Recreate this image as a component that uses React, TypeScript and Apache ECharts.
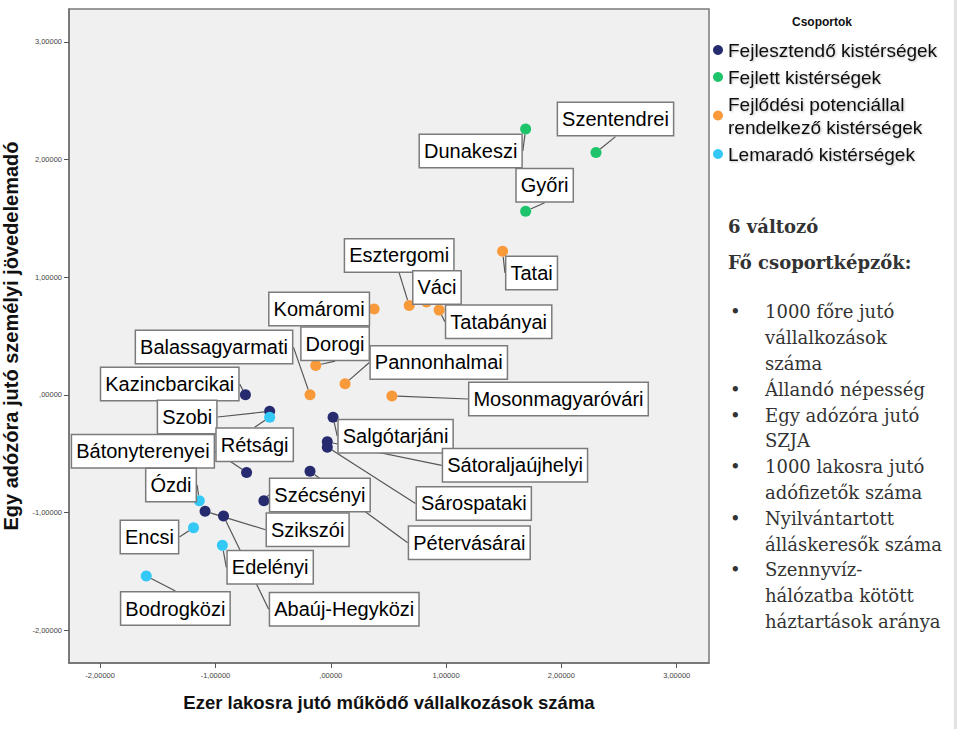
import React, { useEffect, useRef } from 'react';
import * as echarts from 'echarts';

// ---- Data ----
const groupNames = [
  'Fejlesztendő kistérségek',
  'Fejlett kistérségek',
  'Fejlődési potenciállal\nrendelkező kistérségek',
  'Lemaradó kistérségek',
];
const groupColors = ['#262a6e', '#1ec46b', '#f8993a', '#33c8f5'];

const fejlesztendoNames = ['Kazincbarcikai', 'Szobi', 'Salgótarjáni', 'Sátoraljaújhelyi', 'Sárospataki', 'Bátonyterenyei', 'Pétervásárai', 'Szécsényi', 'Szikszói', 'Abaúj-Hegyközi'];
const fejlesztendoX = [-0.74, -0.53, 0.02, -0.03, -0.03, -0.73, -0.18, -0.58, -1.09, -0.93];
const fejlesztendoY = [0.0, -0.14, -0.19, -0.4, -0.445, -0.66, -0.65, -0.9, -0.99, -1.03];

const fejlettNames = ['Dunakeszi', 'Szentendrei', 'Győri'];
const fejlettX = [1.69, 2.3, 1.69];
const fejlettY = [2.26, 2.06, 1.56];

const potencialNames = ['Tatai', 'Esztergomi', 'Váci', 'Tatabányai', 'Komáromi', 'Dorogi', 'Balassagyarmati', 'Pannonhalmai', 'Mosonmagyaróvári'];
const potencialX = [1.49, 0.68, 0.83, 0.94, 0.376, -0.13, -0.18, 0.124, 0.53];
const potencialY = [1.22, 0.76, 0.79, 0.72, 0.73, 0.25, 0.0, 0.094, -0.01];

const lemaradoNames = ['Rétsági', 'Ózdi', 'Encsi', 'Edelényi', 'Bodrogközi'];
const lemaradoX = [-0.53, -1.14, -1.19, -0.94, -1.6];
const lemaradoY = [-0.19, -0.9, -1.13, -1.28, -1.54];

const xTicks = [-2, -1, 0, 1, 2, 3];
const yTicks = [-2, -1, 0, 1, 2, 3];

const xAxisTitle = 'Ezer lakosra jutó működő vállalkozások száma';
const yAxisTitle = 'Egy adózóra jutó személyi jövedelemadó';
const legendTitle = 'Csoportok';

const panelHeading1 = '6 változó';
const panelHeading2 = 'Fő csoportképzők:';
const panelItems = [
  ['1000 főre jutó', 'vállalkozások', 'száma'],
  ['Állandó népesség'],
  ['Egy adózóra jutó', 'SZJA'],
  ['1000 lakosra jutó', 'adófizetők száma'],
  ['Nyilvántartott', 'álláskeresők száma'],
  ['Szennyvíz-', 'hálózatba kötött', 'háztartások aránya'],
];

// ---- Layout (label box offsets from point centre, px) ----
const labelOffsets: Record<string, [number, number]> = {
  Kazincbarcikai: [-75.7, -10.7],
  Szobi: [-82.5, 5.7],
  Salgótarjáni: [62.5, 19],
  Sátoraljaújhelyi: [187.7, 23.5],
  Sárospataki: [146.5, 56.3],
  Bátonyterenyei: [-103.7, -21.3],
  Pétervásárai: [159.3, 71.5],
  Szécsényi: [56, -5.7],
  Szikszói: [102.6, 18.5],
  'Abaúj-Hegyközi': [120.7, 93.3],
  Dunakeszi: [-55, 22],
  Szentendrei: [19.5, -33.4],
  Győri: [19, -26],
  Tatai: [29, 21.7],
  Esztergomi: [-10, -50],
  Váci: [10.5, -14.5],
  Tatabányai: [59.5, 11.7],
  Komáromi: [-55, 0],
  Dorogi: [19.3, -21.7],
  Balassagyarmati: [-96, -47.7],
  Pannonhalmai: [93.7, -21.3],
  Mosonmagyaróvári: [166.6, 3],
  Rétsági: [-15, 27.7],
  Ózdi: [-28.3, -15.8],
  Encsi: [-44.1, 9.3],
  Edelényi: [47.8, 22],
  Bodrogközi: [29.1, 32.6],
};

const fmt = (v: number) => {
  const a = Math.abs(v);
  let s = a.toFixed(5).replace('.', ',');
  if (a < 1) s = s.replace(/^0/, '');
  return (v < 0 ? '-' : '') + s;
};

const groups = [
  { names: fejlesztendoNames, xs: fejlesztendoX, ys: fejlesztendoY },
  { names: fejlettNames, xs: fejlettX, ys: fejlettY },
  { names: potencialNames, xs: potencialX, ys: potencialY },
  { names: lemaradoNames, xs: lemaradoX, ys: lemaradoY },
];

export default function App() {
  const ref = useRef<HTMLDivElement>(null);
  useEffect(() => {
    if (!ref.current) return;
    const chart = echarts.init(ref.current, null, { renderer: 'svg' });

    const series = groups.map((g, gi) => ({
      type: 'scatter',
      name: groupNames[gi],
      symbol: 'circle',
      symbolSize: 11,
      itemStyle: { color: groupColors[gi], opacity: 1 },
      data: g.names.map((n, i) => ({ name: n, value: [g.xs[i], g.ys[i]] })),
      label: {
        show: true,
        position: 'inside',
        formatter: '{b}',
        backgroundColor: '#ffffff',
        borderColor: '#7b7b7b',
        borderWidth: 1.5,
        padding: [4, 4, 4, 4],
        fontSize: 20,
        lineHeight: 24,
        color: '#000',
        fontFamily: 'Liberation Sans, Arial, sans-serif',
      },
      labelLine: { show: true, lineStyle: { color: '#555', width: 1.2 } },
      labelLayout: (p: any) => {
        const o = labelOffsets[g.names[p.dataIndex]] || [0, 0];
        return { dx: o[0], dy: o[1] };
      },
      emphasis: { disabled: true },
    }));

    const bulletLines: string[] = [];
    const textLines: string[] = [];
    panelItems.forEach((item) => {
      item.forEach((line, li) => {
        bulletLines.push(li === 0 ? '•' : ' ');
        textLines.push(line);
      });
    });

    chart.setOption({
      animation: false,
      backgroundColor: '#ffffff',
      grid: {
        left: 69,
        top: 9,
        width: 640,
        height: 654,
        show: true,
        containLabel: false,
        outerBoundsMode: 'none',
        backgroundColor: '#f0f0f0',
        borderColor: '#7a7a7a',
        borderWidth: 1.5,
      },
      xAxis: {
        type: 'value',
        min: -2.27,
        max: 3.28,
        splitLine: { show: false },
        axisLine: { show: true, onZero: false, lineStyle: { color: '#6f6f6f', width: 1.5 } },
        axisTick: { show: true, customValues: xTicks, length: 5, lineStyle: { color: '#555' } },
        axisLabel: {
          customValues: xTicks,
          formatter: fmt,
          fontSize: 7.5,
          color: '#444',
          margin: 8,
          fontFamily: 'Liberation Sans, Arial, sans-serif',
        },
        name: xAxisTitle,
        nameLocation: 'middle',
        nameGap: 30,
        nameTextStyle: {
          fontSize: 18.5,
          fontWeight: 'bold',
          color: '#111',
          fontFamily: 'Liberation Sans, Arial, sans-serif',
        },
      },
      yAxis: {
        type: 'value',
        min: -2.28,
        max: 3.28,
        splitLine: { show: false },
        axisLine: { show: true, onZero: false, lineStyle: { color: '#6f6f6f', width: 1.5 } },
        axisTick: { show: true, customValues: yTicks, length: 5, lineStyle: { color: '#555' } },
        axisLabel: {
          customValues: yTicks,
          formatter: fmt,
          fontSize: 7.5,
          color: '#444',
          margin: 7,
          fontFamily: 'Liberation Sans, Arial, sans-serif',
        },
        name: yAxisTitle,
        nameLocation: 'middle',
        nameGap: 44,
        nameTextStyle: {
          fontSize: 20,
          fontWeight: 'bold',
          color: '#111',
          fontFamily: 'Liberation Sans, Arial, sans-serif',
        },
      },
      legend: {
        orient: 'vertical',
        left: 713,
        top: 38.5,
        padding: 0,
        itemWidth: 10,
        itemHeight: 10,
        itemGap: 4,
        icon: 'circle',
        selectedMode: false,
        data: groupNames,
        textStyle: {
          fontSize: 19,
          lineHeight: 23,
          color: '#111',
          fontFamily: 'Liberation Sans, Arial, sans-serif',
          textShadowColor: 'rgba(0,0,0,0.25)',
          textShadowBlur: 2,
          textShadowOffsetX: 1,
          textShadowOffsetY: 1,
        },
      },
      graphic: [
        {
          type: 'rect',
          shape: { x: 954, y: 0, width: 3, height: 729 },
          style: { fill: '#e2e2e2' },
          silent: true,
        },
        {
          type: 'text',
          x: 822,
          y: 22,
          style: {
            text: legendTitle,
            font: 'bold 12px "Liberation Sans", Arial, sans-serif',
            fill: '#111',
            textAlign: 'center',
            textVerticalAlign: 'middle',
            align: 'center',
            verticalAlign: 'middle',
          },
        },
        {
          type: 'text',
          x: 728,
          y: 226,
          style: {
            text: panelHeading1,
            font: 'bold 18px "DejaVu Serif", serif',
            fill: '#333',
            textVerticalAlign: 'middle',
            verticalAlign: 'middle',
          },
        },
        {
          type: 'text',
          x: 728,
          y: 262,
          style: {
            text: panelHeading2,
            font: 'bold 18px "DejaVu Serif", serif',
            fill: '#333',
            textVerticalAlign: 'middle',
            verticalAlign: 'middle',
          },
        },
        {
          type: 'text',
          x: 730,
          y: 299,
          style: {
            text: bulletLines.join('\n'),
            font: '18px "DejaVu Serif", serif',
            lineHeight: 25.8,
            fill: '#333',
            textVerticalAlign: 'top',
            verticalAlign: 'top',
          },
        },
        {
          type: 'text',
          x: 765,
          y: 299,
          style: {
            text: textLines.join('\n'),
            font: '18px "DejaVu Serif", serif',
            lineHeight: 25.8,
            fill: '#333',
            textVerticalAlign: 'top',
            verticalAlign: 'top',
          },
        },
      ],
      series,
    });

    return () => chart.dispose();
  }, []);

  return (
    <div
      ref={ref}
      style={{ position: 'absolute', left: 0, top: 0, width: 960, height: 729, background: '#fff' }}
    />
  );
}
